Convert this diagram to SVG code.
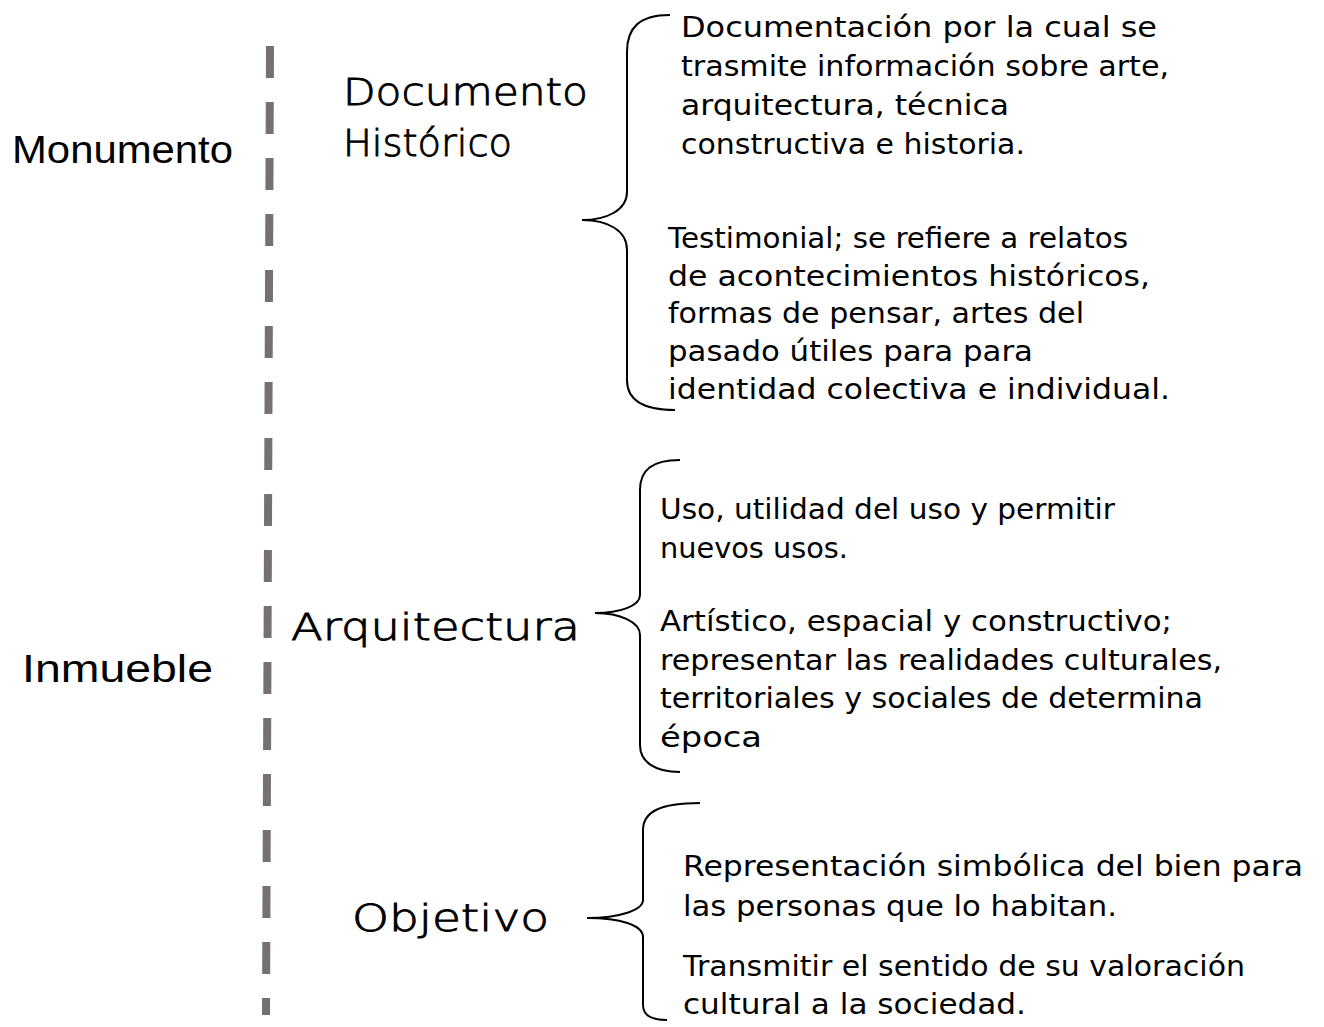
<svg xmlns="http://www.w3.org/2000/svg" width="1324" height="1027" viewBox="0 0 1324 1027">
<style>
.bg{fill:#ffffff}
.title{font-family:"Liberation Sans",Arial,sans-serif;font-size:38px;fill:#000}
.head{font-family:"DejaVu Sans","Noto Sans",sans-serif;font-size:38px;font-weight:200;fill:#000;stroke:#000;stroke-width:0.9}
.body{font-family:"DejaVu Sans","Noto Sans",sans-serif;font-size:28px;fill:#000}
.brace{fill:none;stroke:#000;stroke-width:2}
.divider{stroke:#767171;stroke-width:8;stroke-dasharray:32 24;fill:none}
</style>
<rect class="bg" x="0" y="0" width="1324" height="1027"/>
<g id="connectors">
<line class="divider" x1="270" y1="46" x2="266" y2="1015"/>
<path class="brace" d="M670,15 C640,15 627,27 627,52 L627,192 C627,210 607,220 582,220 C607,220 627,230 627,250 L627,380 C627,400 642,410 675,410"/>
<path class="brace" d="M680,460 C652,460 640,470 640,490 L640,595 C640,606 620,613 595,613 C620,613 640,622 640,635 L640,745 C640,762 655,772 680,772"/>
<path class="brace" d="M700,803 C660,803 643,812 643,830 L643,900 C643,910 620,918 587,918 C620,918 643,925 643,937 L643,1005 C643,1015 650,1020 667,1020"/>
</g>
<g id="node-monumento"><text class="title" x="12" y="163" textLength="221" lengthAdjust="spacingAndGlyphs">Monumento</text></g>
<g id="node-inmueble"><text class="title" x="22" y="682" textLength="191" lengthAdjust="spacingAndGlyphs">Inmueble</text></g>
<g id="node-documento">
<text class="head" x="343" y="105" textLength="245" lengthAdjust="spacingAndGlyphs">Documento</text>
<text class="head" x="343" y="156" textLength="169" lengthAdjust="spacingAndGlyphs">Histórico</text>
</g>
<g id="node-arquitectura"><text class="head" x="291" y="640" textLength="289" lengthAdjust="spacingAndGlyphs">Arquitectura</text></g>
<g id="node-objetivo"><text class="head" x="352" y="931" textLength="197" lengthAdjust="spacingAndGlyphs">Objetivo</text></g>
<g id="node-doc-1">
<text class="body" x="681" y="37" textLength="476" lengthAdjust="spacingAndGlyphs">Documentación por la cual se</text>
<text class="body" x="681" y="76" textLength="488" lengthAdjust="spacingAndGlyphs">trasmite información sobre arte,</text>
<text class="body" x="681" y="115" textLength="328" lengthAdjust="spacingAndGlyphs">arquitectura, técnica</text>
<text class="body" x="681" y="154" textLength="344" lengthAdjust="spacingAndGlyphs">constructiva e historia.</text>
</g>
<g id="node-doc-2">
<text class="body" x="668" y="248" textLength="460" lengthAdjust="spacingAndGlyphs">Testimonial; se refiere a relatos</text>
<text class="body" x="668" y="286" textLength="482" lengthAdjust="spacingAndGlyphs">de acontecimientos históricos,</text>
<text class="body" x="668" y="323" textLength="416" lengthAdjust="spacingAndGlyphs">formas de pensar, artes del</text>
<text class="body" x="668" y="361" textLength="365" lengthAdjust="spacingAndGlyphs">pasado útiles para para</text>
<text class="body" x="668" y="399" textLength="502" lengthAdjust="spacingAndGlyphs">identidad colectiva e individual.</text>
</g>
<g id="node-arq-1">
<text class="body" x="660" y="519" textLength="455" lengthAdjust="spacingAndGlyphs">Uso, utilidad del uso y permitir</text>
<text class="body" x="660" y="558" textLength="188" lengthAdjust="spacingAndGlyphs">nuevos usos.</text>
</g>
<g id="node-arq-2">
<text class="body" x="660" y="631" textLength="512" lengthAdjust="spacingAndGlyphs">Artístico, espacial y constructivo;</text>
<text class="body" x="660" y="670" textLength="562" lengthAdjust="spacingAndGlyphs">representar las realidades culturales,</text>
<text class="body" x="660" y="708" textLength="543" lengthAdjust="spacingAndGlyphs">territoriales y sociales de determina</text>
<text class="body" x="660" y="747" textLength="102" lengthAdjust="spacingAndGlyphs">época</text>
</g>
<g id="node-obj-1">
<text class="body" x="683" y="876" textLength="620" lengthAdjust="spacingAndGlyphs">Representación simbólica del bien para</text>
<text class="body" x="683" y="916" textLength="434" lengthAdjust="spacingAndGlyphs">las personas que lo habitan.</text>
</g>
<g id="node-obj-2">
<text class="body" x="683" y="976" textLength="562" lengthAdjust="spacingAndGlyphs">Transmitir el sentido de su valoración</text>
<text class="body" x="683" y="1014" textLength="343" lengthAdjust="spacingAndGlyphs">cultural a la sociedad.</text>
</g>
</svg>
